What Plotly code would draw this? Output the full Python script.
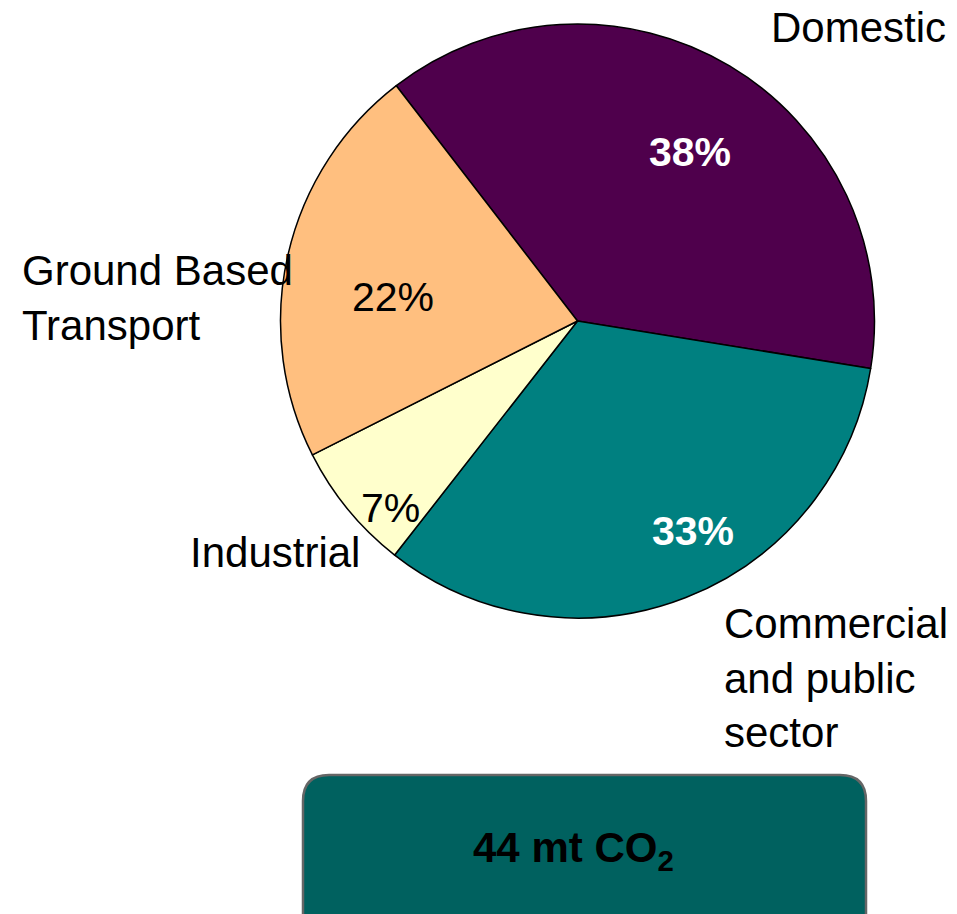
import plotly.graph_objects as go

# Data
categories = ["Domestic", "Commercial<br>and public<br>sector", "Industrial", "Ground Based<br>Transport"]
shares = [38, 33, 7, 22]
colors = ["#4F004C", "#008080", "#FFFFCC", "#FFBF7F"]
pct_font_colors = ["white", "white", "black", "black"]
pct_bold = [True, True, False, False]
total_label = "44 mt CO<sub>2</sub>"

W, H = 957, 914
FONT = "Liberation Sans, Arial, sans-serif"

def px(x):
    return x / W

def py(y):
    return 1 - y / H

cx, cy, r = 577.5, 321, 297

fig = go.Figure(go.Pie(
    values=shares,
    labels=[c.replace("<br>", " ") for c in categories],
    marker=dict(colors=colors, line=dict(color="black", width=1.5)),
    sort=False,
    direction="clockwise",
    rotation=-37.6,
    textinfo="none",
    hoverinfo="label+percent",
    showlegend=False,
    domain=dict(x=[px(cx - r), px(cx + r)], y=[py(cy + r), py(cy - r)]),
))

# percentage label positions (label placement, pixels)
pct_pos = [(690, 152), (693, 531), (390, 508), (393, 297)]
for v, (x, y), fc, b in zip(shares, pct_pos, pct_font_colors, pct_bold):
    t = f"{v}%"
    if b:
        t = f"<b>{t}</b>"
    fig.add_annotation(x=px(x), y=py(y), xref="paper", yref="paper", text=t,
                       showarrow=False, xanchor="center", yanchor="middle",
                       font=dict(family=FONT, size=41, color=fc))

# category label positions (anchor x, vertical middle)
cat_pos = [(948, 28), (722, 678), (188, 552), (20, 298)]
cat_anchor = ["right", "left", "left", "left"]
for c, (x, y), a in zip(categories, cat_pos, cat_anchor):
    fig.add_annotation(x=px(x), y=py(y), xref="paper", yref="paper", text=c,
                       showarrow=False, xanchor=a, yanchor="middle", align="left",
                       font=dict(family=FONT, size=42, color="black"))

# rounded total box
x0, x1, y0, y1, rr = px(303), px(866), py(775), py(960), 26
rx, ry = rr / W, rr / H
path = (f"M {x0+rx},{y0} L {x1-rx},{y0} Q {x1},{y0} {x1},{y0-ry} "
        f"L {x1},{y1+ry} Q {x1},{y1} {x1-rx},{y1} L {x0+rx},{y1} Q {x0},{y1} {x0},{y1+ry} "
        f"L {x0},{y0-ry} Q {x0},{y0} {x0+rx},{y0} Z")
fig.add_shape(type="path", path=path, xref="paper", yref="paper",
              fillcolor="#00615F", line=dict(color="#666666", width=2.5), layer="above")
fig.add_annotation(x=px(573), y=py(850), xref="paper", yref="paper",
                   text=f"<b>{total_label}</b>", showarrow=False,
                   xanchor="center", yanchor="middle",
                   font=dict(family=FONT, size=42, color="black"))

fig.update_layout(width=W, height=H, margin=dict(l=0, r=0, t=0, b=0),
                  paper_bgcolor="white", plot_bgcolor="white")

fig.write_html("out.html",
               config={"displayModeBar": False},
               post_script="document.body.style.margin='0px';document.body.style.overflow='hidden';")
